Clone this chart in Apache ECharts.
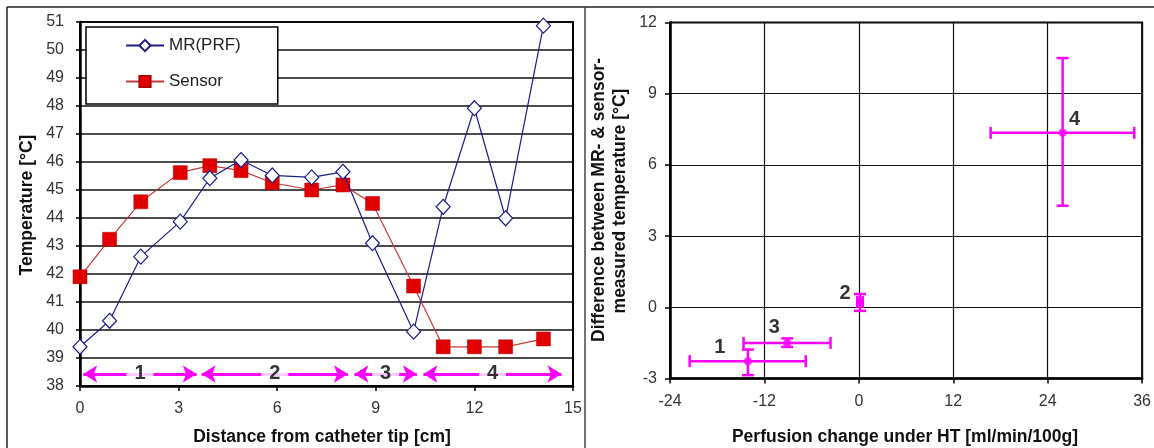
<!DOCTYPE html>
<html>
<head>
<meta charset="UTF-8">
<title>MR vs sensor temperature</title>
<script src="https://cdn.jsdelivr.net/npm/echarts@6/dist/echarts.min.js"></script>
<style>
  html, body { margin: 0; padding: 0; background: #fff; }
  #chart { width: 1154px; height: 448px; }
</style>
</head>
<body>
<div id="chart"></div>
<script>
// left panel: temperature along the catheter
const distance = [0, 0.9, 1.85, 3.05, 3.95, 4.9, 5.85, 7.05, 8.0, 8.9, 10.15, 11.05, 12.0, 12.95, 14.1];
const mrTemp = [39.4, 40.33, 42.62, 43.87, 45.42, 46.07, 45.52, 45.45, 45.65, 43.1, 39.94, 44.4, 47.92, 43.99, 50.87];
const sensorTemp = [41.9, 43.24, 44.58, 45.62, 45.87, 45.69, 45.26, 45.0, 45.18, 44.52, 41.57, 39.4, 39.4, 39.4, 39.68];
const zoneNames = ['1', '2', '3', '4'];
const zoneStart = [0.1, 3.7, 8.35, 10.45];
const zoneEnd = [3.55, 8.15, 10.25, 14.65];
const zoneLevel = 38.43;

// right panel: perfusion change vs temperature difference
const pointNames = ['1', '2', '3', '4'];
const perfusion = [-14.1, 0.15, -9.1, 25.9];
const perfusionLow = [-21.5, -0.2, -14.65, 16.75];
const perfusionHigh = [-6.75, 0.5, -3.6, 35.0];
const tempDiff = [-2.27, 0.23, -1.5, 7.35];
const tempDiffLow = [-2.86, -0.15, -1.67, 4.28];
const tempDiffHigh = [-1.78, 0.56, -1.31, 10.5];

// where the number sits next to each point (px)
const labelOffsets = [[-28, -14], [-15, -8], [-13, -15], [12, -13]];

const FONT = '"Liberation Sans", Arial, sans-serif';
const PINK = '#ff00ff';
const TITLE_FONT = 'bold 17.5px ' + FONT;
const tickText = { color: '#333', fontSize: 16, fontFamily: FONT };

const chart = echarts.init(document.getElementById('chart'));

function renderErrorBars(params, api) {
  const c = api.coord([api.value(0), api.value(1)]);
  const xl = api.coord([api.value(2), api.value(1)]);
  const xh = api.coord([api.value(3), api.value(1)]);
  const yl = api.coord([api.value(0), api.value(4)]);
  const yh = api.coord([api.value(0), api.value(5)]);
  const cap = 6;
  const style = { stroke: PINK, lineWidth: 2.5 };
  const line = (x1, y1, x2, y2) => ({ type: 'line', shape: { x1, y1, x2, y2 }, style });
  return {
    type: 'group',
    children: [
      line(xl[0], c[1], xh[0], c[1]),
      line(xl[0], c[1] - cap, xl[0], c[1] + cap),
      line(xh[0], c[1] - cap, xh[0], c[1] + cap),
      line(c[0], yl[1], c[0], yh[1]),
      line(c[0] - cap, yl[1], c[0] + cap, yl[1]),
      line(c[0] - cap, yh[1], c[0] + cap, yh[1])
    ]
  };
}

const option = {
  animation: false,
  backgroundColor: '#fff',
  textStyle: { fontFamily: FONT },
  grid: [
    { left: 80, top: 22, width: 493, height: 364, show: true, borderColor: '#000', borderWidth: 2, backgroundColor: 'transparent' },
    { left: 670, top: 22.5, width: 476, height: 356, show: true, borderColor: '#000', borderWidth: 2, backgroundColor: 'transparent' }
  ],
  legend: {
    left: 86, top: 27,
    orient: 'vertical',
    data: ['MR(PRF)', 'Sensor'],
    backgroundColor: '#fff',
    borderColor: '#000',
    borderWidth: 1.5,
    borderRadius: 0,
    padding: [10, 37, 14, 39],
    itemWidth: 38, itemHeight: 14, itemGap: 19,
    textStyle: { fontSize: 17, color: '#222', fontFamily: FONT }
  },
  xAxis: [
    {
      gridIndex: 0, type: 'value', min: 0, max: 15, interval: 3,
      axisLine: { lineStyle: { color: '#000', width: 2.5 } },
      axisTick: { show: true, inside: false, length: 5, lineStyle: { color: '#000', width: 1.5 } },
      axisLabel: Object.assign({ margin: 15 }, tickText),
      splitLine: { show: false }
    },
    {
      gridIndex: 1, type: 'value', min: -24, max: 36, interval: 12,
      axisLine: { onZero: false, lineStyle: { color: '#000', width: 2.5 } },
      axisTick: { show: true, length: 5, lineStyle: { color: '#000', width: 1.5 } },
      axisLabel: Object.assign({ margin: 15 }, tickText),
      splitLine: { show: true, lineStyle: { color: '#111', width: 1.2 } }
    }
  ],
  yAxis: [
    {
      gridIndex: 0, type: 'value', min: 38, max: 51, interval: 1,
      axisLine: { show: true, lineStyle: { color: '#000', width: 2.5 } },
      axisTick: { show: true, length: 4, lineStyle: { color: '#000', width: 1.5 } },
      axisLabel: Object.assign({ margin: 16 }, tickText),
      splitLine: { show: true, lineStyle: { color: '#111', width: 1.5 } }
    },
    {
      gridIndex: 1, type: 'value', min: -3, max: 12, interval: 3,
      axisLine: { show: true, onZero: false, lineStyle: { color: '#000', width: 2.5 } },
      axisTick: { show: true, length: 5, lineStyle: { color: '#000', width: 1.5 } },
      axisLabel: Object.assign({ margin: 13 }, tickText),
      splitLine: { show: true, lineStyle: { color: '#111', width: 1.2 } }
    }
  ],
  series: [
    {
      name: 'Sensor', type: 'line', xAxisIndex: 0, yAxisIndex: 0,
      data: distance.map((d, i) => [d, sensorTemp[i]]),
      symbol: 'rect', symbolSize: 14,
      lineStyle: { color: '#c43a3a', width: 1.2 },
      itemStyle: { color: '#e00000', borderColor: '#b00000', borderWidth: 0.5 },
      z: 3
    },
    {
      name: 'MR(PRF)', type: 'line', xAxisIndex: 0, yAxisIndex: 0,
      data: distance.map((d, i) => [d, mrTemp[i]]),
      symbol: 'diamond', symbolSize: [14, 15],
      lineStyle: { color: '#1c1c8a', width: 1.2 },
      itemStyle: { color: '#fff', borderColor: '#1c1c8a', borderWidth: 1.2 },
      z: 4
    },
    {
      // zone arrows along the bottom
      name: 'zones', type: 'line', xAxisIndex: 0, yAxisIndex: 0,
      data: [], silent: true,
      markLine: {
        silent: true, animation: false,
        symbol: ['arrow', 'arrow'], symbolSize: [13, 14],
        lineStyle: { color: PINK, width: 3, type: 'solid' },
        label: { show: false },
        data: zoneNames.map((n, i) => [{ coord: [zoneStart[i], zoneLevel] }, { coord: [zoneEnd[i], zoneLevel] }])
      }
    },
    {
      name: 'zoneLabels', type: 'scatter', xAxisIndex: 0, yAxisIndex: 0,
      symbolSize: 0, silent: true, z: 5,
      data: zoneNames.map((n, i) => ({ value: [(zoneStart[i] + zoneEnd[i]) / 2, zoneLevel], name: n })),
      label: {
        show: true, position: 'inside', formatter: '{b}',
        color: '#000', fontSize: 20, fontWeight: 'bold', fontFamily: FONT,
        backgroundColor: '#fff', padding: [0, 8]
      }
    },
    {
      name: 'errors', type: 'custom', xAxisIndex: 1, yAxisIndex: 1,
      renderItem: renderErrorBars, silent: true, clip: false,
      data: perfusion.map((p, i) => [p, tempDiff[i], perfusionLow[i], perfusionHigh[i], tempDiffLow[i], tempDiffHigh[i]]),
      z: 3
    },
    {
      name: 'points', type: 'scatter', xAxisIndex: 1, yAxisIndex: 1,
      symbol: 'circle', symbolSize: 8, itemStyle: { color: PINK },
      data: perfusion.map((p, i) => ({
        value: [p, tempDiff[i]], name: pointNames[i],
        label: { offset: labelOffsets[i] }
      })),
      label: {
        show: true, position: 'inside', formatter: '{b}',
        color: '#000', fontSize: 20, fontWeight: 'bold', fontFamily: FONT
      },
      z: 4
    }
  ],
  graphic: [
    { type: 'line', shape: { x1: 7, y1: 7, x2: 1154, y2: 7 }, style: { stroke: '#222', lineWidth: 1.5 } },
    { type: 'line', shape: { x1: 7, y1: 7, x2: 7, y2: 448 }, style: { stroke: '#222', lineWidth: 1.5 } },
    { type: 'line', shape: { x1: 585, y1: 7, x2: 585, y2: 448 }, style: { stroke: '#444', lineWidth: 1.5 } },
    {
      type: 'text', x: 27, y: 205, rotation: Math.PI / 2,
      style: { text: 'Temperature [°C]', font: TITLE_FONT, fill: '#111', align: 'center', verticalAlign: 'middle' }
    },
    {
      type: 'text', x: 322, y: 437,
      style: { text: 'Distance from catheter tip [cm]', font: TITLE_FONT, fill: '#111', align: 'center', verticalAlign: 'middle' }
    },
    {
      type: 'text', x: 599, y: 200, rotation: Math.PI / 2,
      style: { text: 'Difference between MR- & sensor-', font: TITLE_FONT, fill: '#111', align: 'center', verticalAlign: 'middle' }
    },
    {
      type: 'text', x: 620, y: 201, rotation: Math.PI / 2,
      style: { text: 'measured temperature [°C]', font: TITLE_FONT, fill: '#111', align: 'center', verticalAlign: 'middle' }
    },
    {
      type: 'text', x: 905, y: 437,
      style: { text: 'Perfusion change under HT [ml/min/100g]', font: TITLE_FONT, fill: '#111', align: 'center', verticalAlign: 'middle' }
    }
  ]
};

chart.setOption(option);
</script>
</body>
</html>
